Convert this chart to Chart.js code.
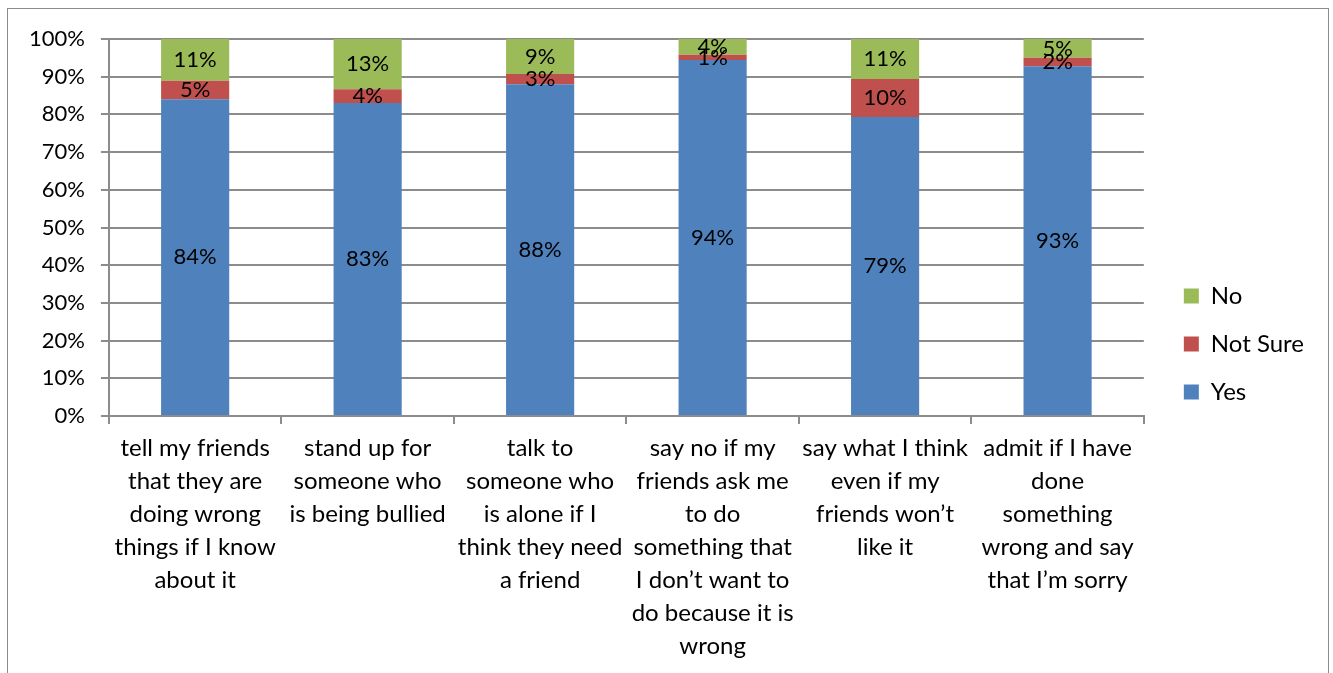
<!DOCTYPE html>
<html>
<head>
<meta charset="utf-8">
<script src="https://cdn.jsdelivr.net/npm/chart.js@4.4.1/dist/chart.umd.min.js"></script>
<style>
  html, body { margin: 0; padding: 0; background: #fff; overflow: hidden; }
  #frame { position: absolute; left: 7px; top: 8px; width: 1320px; height: 700px; border: 1px solid #8c8c8c; }
  #wrap { position: absolute; left: 0; top: 0; width: 1333px; height: 673px; }
</style>
</head>
<body>
<div id="frame"></div>
<div id="wrap"><canvas id="c"></canvas></div>
<script>
// stacked 100% bar — survey answers

const categories = [
  ['tell my friends', 'that they are', 'doing wrong', 'things if I know', 'about it'],
  ['stand up for', 'someone who', 'is being bullied'],
  ['talk to', 'someone who', 'is alone if I', 'think they need', 'a friend'],
  ['say no if my', 'friends ask me', 'to do', 'something that', 'I don\u2019t want to', 'do because it is', 'wrong'],
  ['say what I think', 'even if my', 'friends won\u2019t', 'like it'],
  ['admit if I have', 'done', 'something', 'wrong and say', 'that I\u2019m sorry'],
];

const yesValues      = [84.0, 83.0, 88.0, 94.4, 79.3, 92.8];
const notSureValues  = [4.9, 3.7, 2.7, 1.4, 10.1, 2.2];
const noValues       = [11.1, 13.3, 9.3, 4.2, 10.6, 5.0];

const yTicks = [0, 10, 20, 30, 40, 50, 60, 70, 80, 90, 100];

const FONT = "Lato, 'Liberation Sans', sans-serif";
const GRID = '#8c8c8c';

// labels centred in each stacked segment
const segmentLabels = {
  id: 'segmentLabels',
  afterDatasetsDraw(chart) {
    const ctx = chart.ctx;
    ctx.save();
    ctx.font = '22px ' + FONT;
    ctx.fillStyle = '#000';
    ctx.textAlign = 'center';
    ctx.textBaseline = 'middle';
    chart.data.datasets.forEach((ds, i) => {
      const meta = chart.getDatasetMeta(i);
      meta.data.forEach((bar, j) => {
        const p = bar.getProps(['x', 'y', 'base'], true);
        ctx.fillText(Math.round(ds.data[j]) + '%', p.x, (p.y + p.base) / 2);
      });
    });
    ctx.restore();
  }
};

// nudge the legend block a bit right / up, like the office chart
const legendNudge = {
  id: 'legendNudge',
  afterLayout(chart) {
    const lg = chart.legend;
    if (!lg) return;
    lg.left += 16; lg.right += 16;
    lg.top -= 11;  lg.bottom -= 11;
  }
};

new Chart(document.getElementById('c'), {
  type: 'bar',
  data: {
    labels: categories,
    datasets: [
      { label: 'Yes',      data: yesValues,     backgroundColor: '#4f81bd' },
      { label: 'Not Sure', data: notSureValues, backgroundColor: '#c0504d' },
      { label: 'No',       data: noValues,      backgroundColor: '#9bbb59' },
    ],
  },
  options: {
    responsive: true,
    maintainAspectRatio: false,
    animation: false,
    events: [],
    layout: { padding: { left: 13, top: 39, right: 35, bottom: 2 } },
    datasets: { bar: { categoryPercentage: 1, barPercentage: 0.395, borderWidth: 0 } },
    plugins: {
      tooltip: { enabled: false },
      legend: {
        position: 'right',
        reverse: true,
        labels: {
          font: { family: FONT, size: 24 },
          color: '#000',
          boxWidth: 15,
          boxHeight: 15,
          padding: 24,
        },
      },
    },
    scales: {
      x: {
        stacked: true,
        grid: { drawOnChartArea: false, drawTicks: true, tickLength: 8, color: GRID, lineWidth: 2 },
        border: { display: true, color: GRID, width: 2 },
        ticks: {
          font: { family: FONT, size: 24, lineHeight: 1.375 },
          color: '#000',
          maxRotation: 0,
          autoSkip: false,
          padding: 8,
        },
      },
      y: {
        stacked: true,
        min: 0,
        max: 100,
        afterBuildTicks: axis => { axis.ticks = yTicks.map(v => ({ value: v })); },
        grid: { color: GRID, lineWidth: 2, tickLength: 8 },
        border: { display: true, color: GRID, width: 2 },
        ticks: {
          font: { family: FONT, size: 22 },
          color: '#000',
          padding: 16,
          callback: v => v + '%',
        },
      },
    },
  },
  plugins: [segmentLabels, legendNudge],
});
</script>
</body>
</html>
